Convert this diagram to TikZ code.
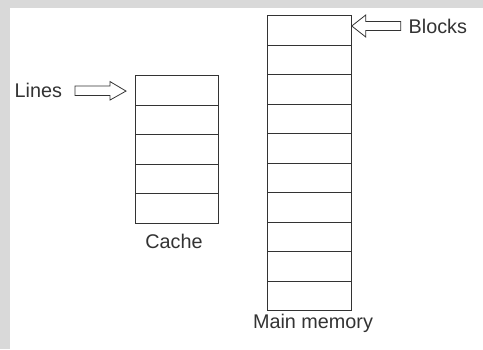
\documentclass[tikz,border=0pt]{standalone}
\usepackage{fontspec}
\setmainfont{Liberation Sans}
\usetikzlibrary{calc}
\definecolor{bandgray}{HTML}{D9D9D9}
\definecolor{ink}{HTML}{333333}
\begin{document}
\begin{tikzpicture}[x=1pt,y=-1pt,
  cell/.style={draw=ink,line width=0.9pt,minimum width=83pt,minimum height=29.5pt,inner sep=0pt,outer sep=0pt},
  lbl/.style={text=ink,font=\fontsize{19.8}{21}\selectfont,inner sep=0pt},
  hollow/.style={draw=ink,line width=0.8pt,fill=white,line join=miter}]
\useasboundingbox (0,0) rectangle (483,349);
\fill[white] (0,0) rectangle (483,349);
\fill[bandgray] (0,0) rectangle (483,8);
\fill[bandgray] (0,0) rectangle (10,349);
% cache
\foreach \i in {1,...,5}{
  \node[cell] (c\i) at (176.5,{75.5+29.5*(\i-0.5)}) {};
}
% main memory
\foreach \i in {1,...,10}{
  \node[cell,minimum width=83.5pt] (m\i) at (309.5,{15.7+29.5*(\i-0.5)}) {};
}
\node[lbl] (cache) at (174,241.5) {Cache};
\node[lbl] (main) at (313,323) {Main memory};
\node[lbl,anchor=west] (lines) at (14.5,90) {Lines};
\node[lbl,anchor=west] (blocks) at (408.5,26.5) {Blocks};
% Lines arrow (points right)
\coordinate (lt) at ($(c1.west)+(-9,0.8)$);
\draw[hollow] (lt) -- ++(-16,-9.5) -- ++(0,4.5) -- ++(-35,0) -- ++(0,9.5) -- ++(35,0) -- ++(0,4.5) -- cycle;
% Blocks arrow (points left)
\coordinate (bt) at ($(m1.east |- blocks.west)+(0.5,-0.5)$);
\draw[hollow] (bt) -- ++(14,-11) -- ++(0,6.5) -- ++(35,0) -- ++(0,9) -- ++(-35,0) -- ++(0,6.5) -- cycle;
\end{tikzpicture}
\end{document}
